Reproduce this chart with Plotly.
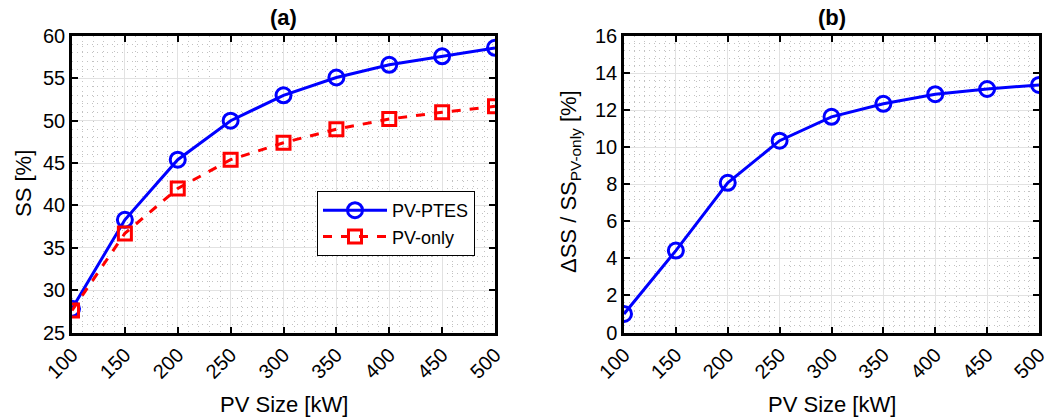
import plotly.graph_objects as go

pv_size = [100, 150, 200, 250, 300, 350, 400, 450, 500]
ss_pv_ptes = [27.8, 38.3, 45.4, 50.0, 53.0, 55.1, 56.6, 57.6, 58.6]
ss_pv_only = [27.6, 36.7, 42.0, 45.4, 47.4, 49.0, 50.2, 51.0, 51.7]
delta_ss = [1.0, 4.42, 8.08, 10.35, 11.64, 12.34, 12.86, 13.14, 13.36]

W, H = 1055, 418
FONT = "Liberation Sans, Arial, sans-serif"

def px_x(p):
    return p / W

def px_y(p):
    return 1 - p / H

fig = go.Figure()

fig.add_trace(go.Scatter(
    x=pv_size, y=ss_pv_ptes, name="PV-PTES", mode="lines+markers",
    line=dict(color="#0000FF", width=3),
    marker=dict(symbol="circle-open", size=15, color="#0000FF", line=dict(width=3)),
    xaxis="x", yaxis="y"))
fig.add_trace(go.Scatter(
    x=pv_size, y=ss_pv_only, name="PV-only", mode="lines+markers",
    line=dict(color="#FF0000", width=3, dash="dash"),
    marker=dict(symbol="square-open", size=13, color="#FF0000", line=dict(width=3)),
    xaxis="x", yaxis="y"))
fig.add_trace(go.Scatter(
    x=pv_size, y=delta_ss, name="delta", mode="lines+markers", showlegend=False,
    line=dict(color="#0000FF", width=3),
    marker=dict(symbol="circle-open", size=15, color="#0000FF", line=dict(width=3)),
    xaxis="x2", yaxis="y2"))

ydom = [px_y(332.5), px_y(36)]
MINOR_DASH = "1px,4px"

def xax(domain, anchor):
    return dict(
        domain=domain, anchor=anchor, range=[100, 500], automargin=False,
        tickvals=pv_size, tickangle=-45,
        ticks="inside", ticklen=6, tickwidth=1.5, tickcolor="black",
        showline=True, linecolor="black", linewidth=2.5, mirror="ticks",
        showgrid=True, gridcolor="#e2e2e2", gridwidth=1,
        zeroline=False,
        tickfont=dict(family=FONT, size=20, color="black"),
        minor=dict(dtick=10, showgrid=True, gridcolor="#c2c2c2",
                   griddash=MINOR_DASH, gridwidth=1, ticks=""),
    )

def yax(domain, anchor, rng, dtick, mdtick):
    return dict(
        domain=domain, anchor=anchor, range=rng, dtick=dtick, automargin=False,
        ticks="inside", ticklen=6, tickwidth=1.5, tickcolor="black",
        showline=True, linecolor="black", linewidth=2.5, mirror="ticks",
        showgrid=True, gridcolor="#e2e2e2", gridwidth=1,
        zeroline=False,
        tickfont=dict(family=FONT, size=20, color="black"),
        minor=dict(dtick=mdtick, showgrid=True, gridcolor="#c2c2c2",
                   griddash=MINOR_DASH, gridwidth=1, ticks=""),
    )

fig.update_layout(
    width=W, height=H,
    margin=dict(l=0, r=0, t=0, b=0, autoexpand=False),
    paper_bgcolor="white", plot_bgcolor="white",
    font=dict(family=FONT, size=18, color="black"),
    xaxis=xax([px_x(72), px_x(495)], "y"),
    yaxis=yax(ydom, "x", [25, 60], 5, 1),
    xaxis2=xax([px_x(624), px_x(1039)], "y2"),
    yaxis2=yax(ydom, "x2", [0, 16], 2, 0.4),
    legend=dict(
        x=px_x(475), y=px_y(191), xanchor="right", yanchor="top",
        bgcolor="white", bordercolor="black", borderwidth=1,
        font=dict(family=FONT, size=18, color="black"),
        itemwidth=64, tracegroupgap=0,
    ),
    showlegend=True,
)

annotations = [
    dict(text="<b>(a)</b>", x=px_x(283.5), y=px_y(17)),
    dict(text="<b>(b)</b>", x=px_x(831.5), y=px_y(17)),
    dict(text="PV Size [kW]", x=px_x(283.5), y=px_y(404)),
    dict(text="PV Size [kW]", x=px_x(831.5), y=px_y(404)),
    dict(text="SS [%]", x=px_x(23), y=px_y(184), textangle=-90),
    dict(text="ΔSS / SS<sub>PV-only</sub> [%]", x=px_x(570), y=px_y(182), textangle=-90),
]
for a in annotations:
    fig.add_annotation(xref="paper", yref="paper", showarrow=False,
                       xanchor="center", yanchor="middle",
                       font=dict(family=FONT, size=22, color="black"), **a)

fig.write_html(
    "out.html",
    config={"displayModeBar": False},
    post_script="document.body.style.margin='0px';document.body.style.overflow='hidden';",
)
